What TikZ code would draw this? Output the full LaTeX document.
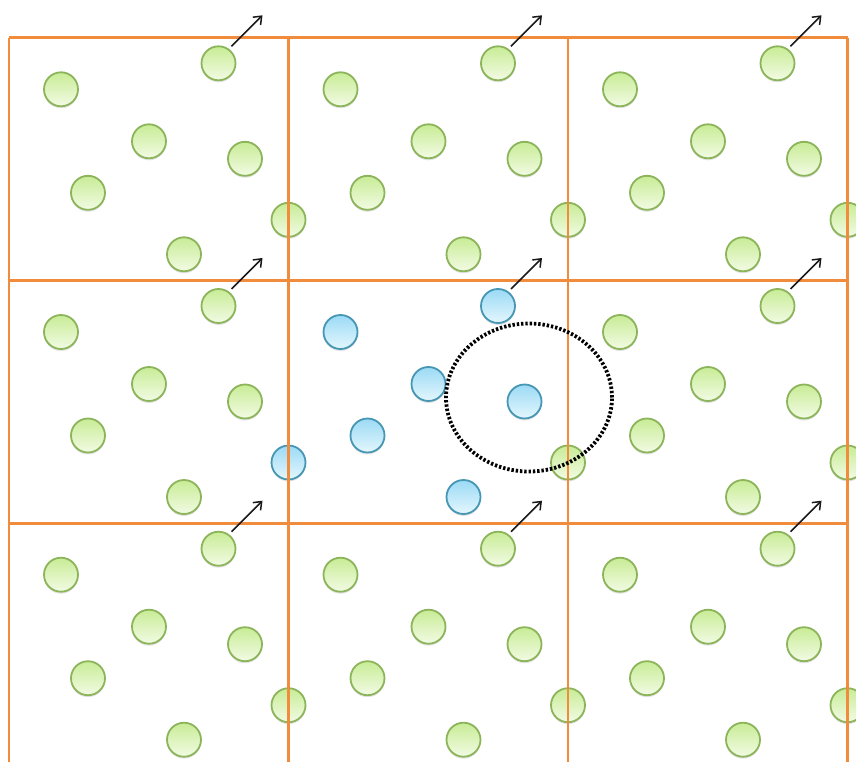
\documentclass[tikz,border=0pt]{standalone}
\usetikzlibrary{arrows.meta,shadows}
\definecolor{gridor}{RGB}{240,140,60}
\definecolor{gtop}{RGB}{200,236,150}
\definecolor{gbot}{RGB}{242,251,228}
\definecolor{gedge}{RGB}{140,180,90}
\definecolor{btop}{RGB}{155,218,245}
\definecolor{bbot}{RGB}{228,247,253}
\definecolor{bedge}{RGB}{70,150,180}
\tikzset{
  gpart/.style={circle, minimum size=34pt, inner sep=0pt, draw=gedge, line width=1.8pt,
    top color=gtop, bottom color=gbot,
    drop shadow={shadow xshift=0pt, shadow yshift=-2pt, opacity=0.18, fill=black!60}},
  bpart/.style={circle, minimum size=34pt, inner sep=0pt, draw=bedge, line width=1.8pt,
    top color=btop, bottom color=bbot,
    drop shadow={shadow xshift=0pt, shadow yshift=-2pt, opacity=0.18, fill=black!60}},
  cellline/.style={draw=gridor, line width=2.8pt},
  velo/.style={-{Straight Barb[length=7pt,width=11pt,line width=1.5pt]}, line width=1.6pt, black!90},
  cutoff/.style={draw=black, line width=3.8pt, dash pattern=on 2.4pt off 1.9pt}
}
\begin{document}
\begin{tikzpicture}[x=1pt,y=-1pt]
\useasboundingbox (0,0) rectangle (856,762);
\clip (0,0) rectangle (856,762);
% particles
\foreach \r in {0,1,2}{
  \foreach \c in {0,1,2}{
    \pgfmathsetmacro\xo{9+279.5*\c}
    \pgfmathsetmacro\yo{37.8+242.7*\r}
    \ifnum\r=1 \ifnum\c=1 \tikzset{pstyle/.style={bpart}}\else\tikzset{pstyle/.style={gpart}}\fi
    \else \tikzset{pstyle/.style={gpart}}\fi
    \ifnum\r=1 \ifnum\c=0 \tikzset{fstyle/.style={bpart}}\else\tikzset{fstyle/.style={gpart}}\fi
    \else \tikzset{fstyle/.style={gpart}}\fi
    \foreach \k/\px/\py in {a/52/51.5, b/209.5/25.5, c/140/103.5, d/236/121, e/79/155, g/175/216.5}{
      \node[pstyle] (p\r\c\k) at (\xo+\px,\yo+\py) {};
    }
    \node[fstyle] (p\r\c f) at (\xo+279.5,\yo+182) {};
  }
}
% cell boundaries
\foreach \xx [count=\i] in {9,288.5,568,847.5}{
  \coordinate (vt\i) at (\xx,37.8);
  \coordinate (vb\i) at (\xx,766);
  \draw[cellline] (vt\i) -- (vb\i);
}
\foreach \yy [count=\i] in {37.8,280.5,523.2}{
  \coordinate (hl\i) at (9,\yy);
  \coordinate (hr\i) at (847.5,\yy);
  \draw[cellline] (hl\i) -- (hr\i);
}
% velocity arrows
\foreach \r in {0,1,2}{
  \foreach \c in {0,1,2}{
    \coordinate (s\r\c) at ([shift={(13,-17)}]p\r\c b.center);
    \coordinate (t\r\c) at ([shift={(44,-48)}]p\r\c b.center);
    \draw[velo] (s\r\c) -- (t\r\c);
  }
}
% cutoff circle
\coordinate (cc) at (529,397.5);
\draw[cutoff] (cc) ellipse [x radius=83pt, y radius=74pt];
\end{tikzpicture}
\end{document}
